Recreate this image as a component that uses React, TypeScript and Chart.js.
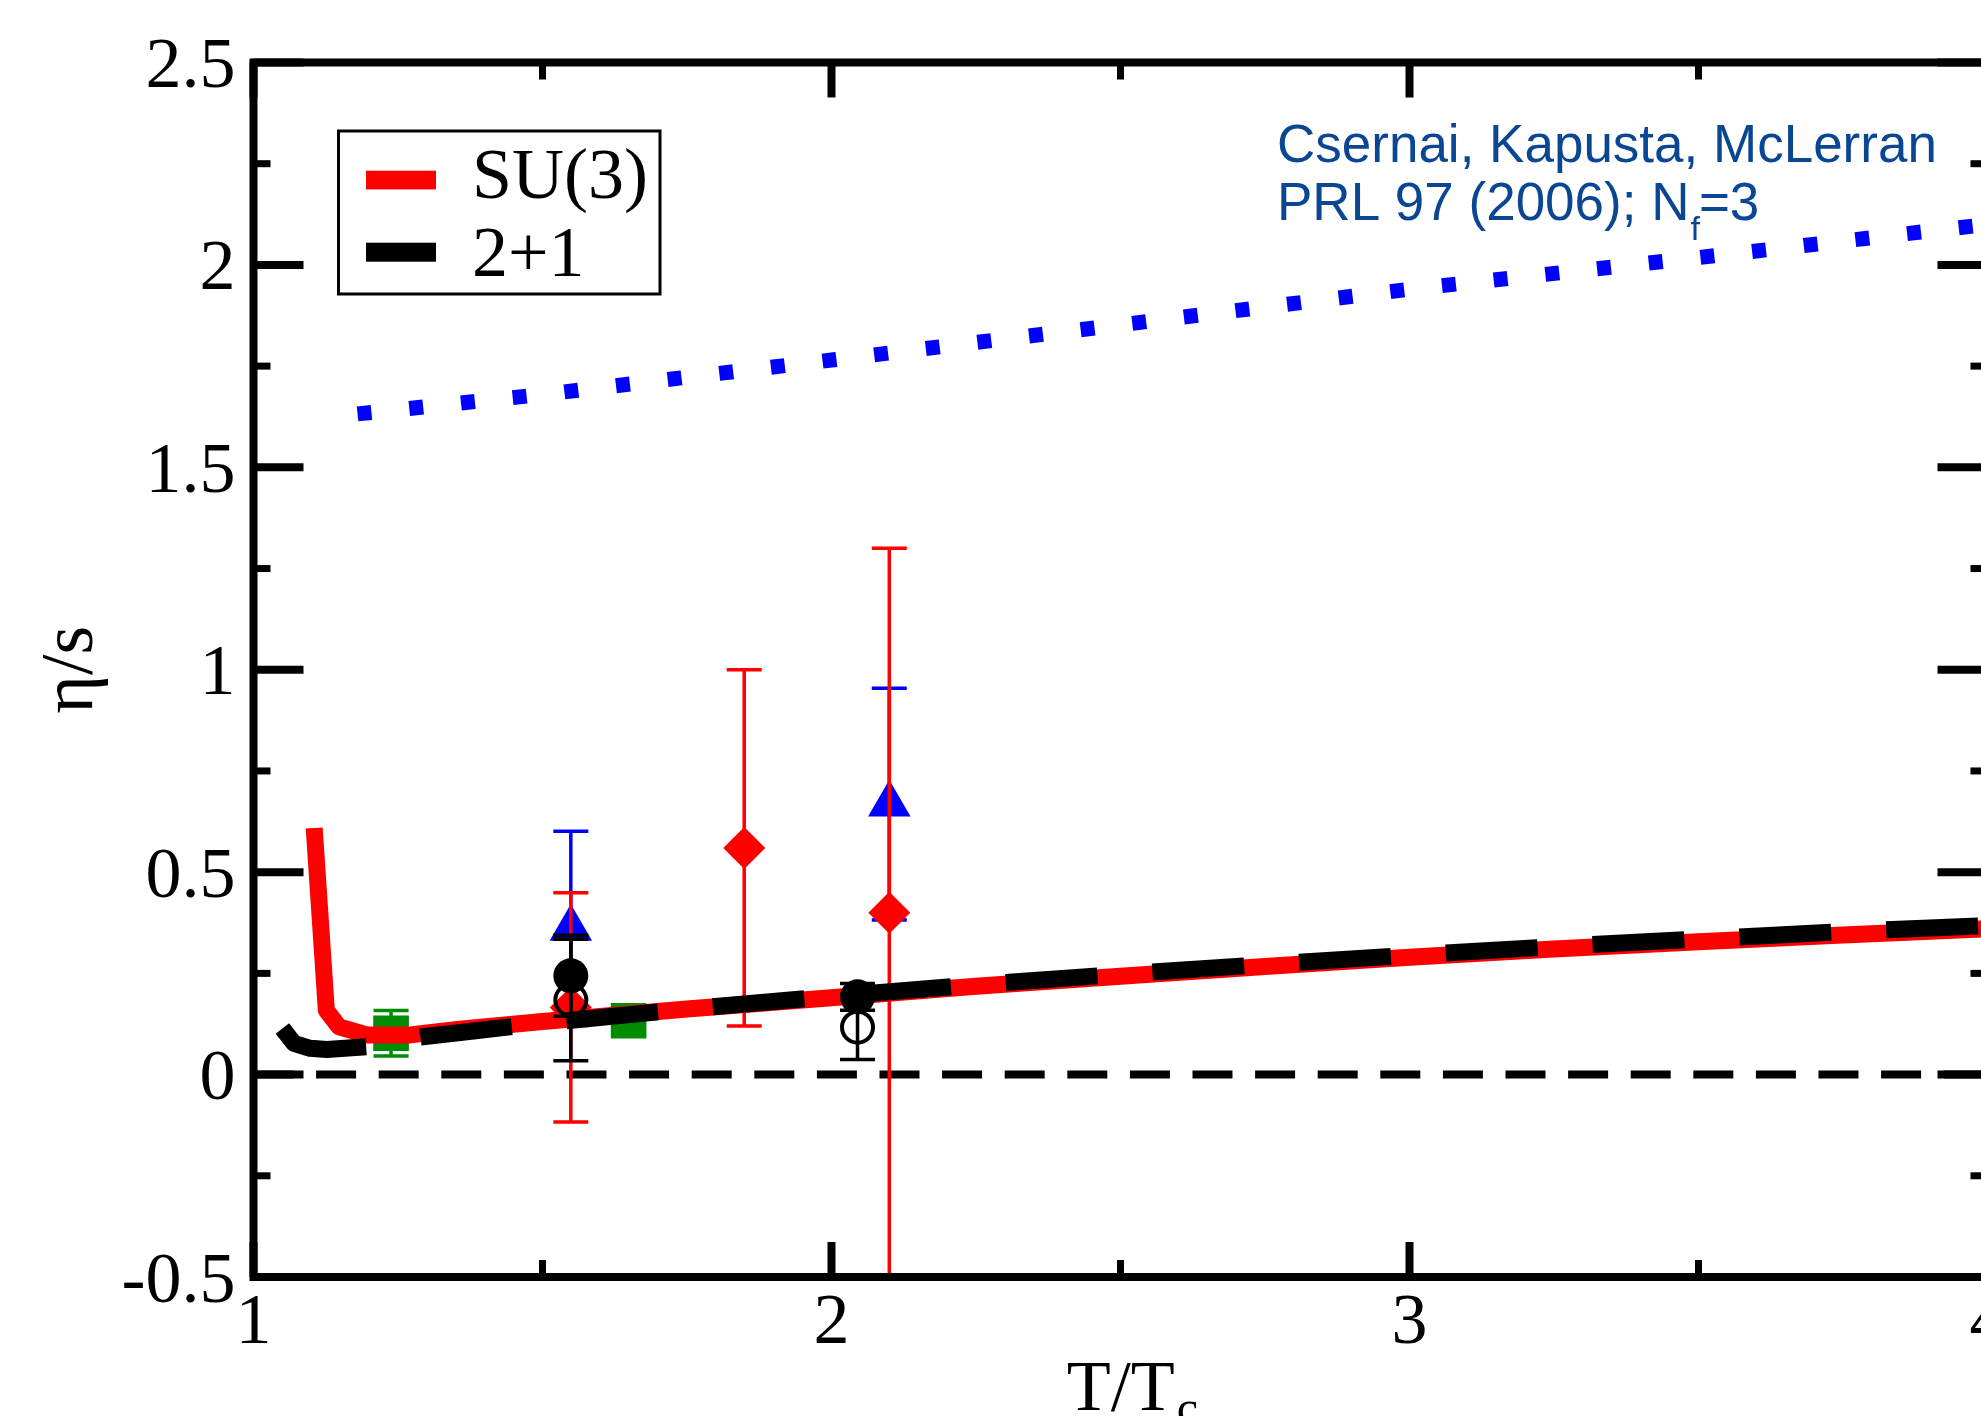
import React, { useEffect, useRef } from "react";
import { Chart, registerables } from "chart.js";

Chart.register(...registerables);

// ---------- data ----------
// SU(3) curve (red, solid)
const su3T = [1.105, 1.126, 1.148, 1.196, 1.271, 1.357, 1.5, 1.75, 2.0, 2.25, 2.5, 2.75, 3.0, 3.25, 3.5, 3.75, 4.0];
const su3Eta = [0.609, 0.159, 0.118, 0.098, 0.098, 0.112, 0.131, 0.162, 0.19, 0.218, 0.243, 0.267, 0.29, 0.31, 0.328, 0.345, 0.36];

// 2+1 curve (black, dashed)
const nf21T = [1.05, 1.07, 1.098, 1.127, 1.196, 1.289, 1.358, 1.5, 1.75, 2.0, 2.25, 2.5, 2.75, 3.0, 3.25, 3.5, 3.75, 4.0];
const nf21Eta = [0.114, 0.077, 0.065, 0.062, 0.069, 0.093, 0.104, 0.127, 0.162, 0.193, 0.222, 0.248, 0.272, 0.295, 0.316, 0.335, 0.353, 0.368];

// Csernai, Kapusta, McLerran (blue, dotted)
const ckmT = [1.18, 1.5, 2.0, 2.5, 3.0, 3.5, 4.0];
const ckmEta = [1.632, 1.68, 1.765, 1.852, 1.94, 2.018, 2.1];

// zero reference line
const zeroT = [1, 4];
const zeroEta = [0, 0];

// lattice points with errors
const triT = [1.549, 2.1];
const triEta = [0.361, 0.668];
const triErr = [0.24, 0.286];

const diaT = [1.549, 1.849, 2.1];
const diaEta = [0.166, 0.56, 0.4];
const diaErr = [0.283, 0.44, 0.9];

const sqT = [1.238, 1.649];
const sqEta = [0.102, 0.133];
const sqErr = [0.056, 0];

const fcT = [1.549, 2.045];
const fcEta = [0.244, 0.192];
const fcErr = [0.1, 0.033];

const ocT = [1.549, 2.045];
const ocEta = [0.184, 0.117];
const ocErr = [0.15, 0.08];

// axes
const xTickValues = [1, 2, 3, 4];
const xTickLabels = ["1", "2", "3", "4"];
const xMinorValues = [1.5, 2.5, 3.5];
const yTickValues = [-0.5, 0, 0.5, 1, 1.5, 2, 2.5];
const yTickLabels = ["-0.5", "0", "0.5", "1", "1.5", "2", "2.5"];
const yMinorValues = [-0.25, 0.25, 0.75, 1.25, 1.75, 2.25];

const legendLabels = ["SU(3)", "2+1"];
const noteLine1 = "Csernai, Kapusta, McLerran";
const noteLine2 = "PRL 97 (2006); N";
const noteSub = "f";
const noteTail = "=3";

const pts = (xs: number[], ys: number[]) => xs.map((x, i) => ({ x, y: ys[i] }));

const CW = 2100;
const CH = 1416;
const SERIF = '"Liberation Serif", "Times New Roman", serif';
const SANS = '"Liberation Sans", Arial, sans-serif';

const errorBars = {
  id: "errorBars",
  beforeDatasetDraw(chart: any, args: any) {
    const ds = chart.data.datasets[args.index];
    if (!ds.errors) return;
    const { ctx } = chart;
    const xs = chart.scales.x;
    const ys = chart.scales.y;
    ctx.save();
    ctx.strokeStyle = ds.errorColor;
    ctx.lineWidth = 3.5;
    ctx.lineCap = "butt";
    ds.data.forEach((p: any, i: number) => {
      const e = ds.errors[i];
      if (!e) return;
      const px = xs.getPixelForValue(p.x);
      const yt = ys.getPixelForValue(p.y + e);
      const yb = ys.getPixelForValue(p.y - e);
      ctx.beginPath();
      ctx.moveTo(px, yt);
      ctx.lineTo(px, yb);
      ctx.moveTo(px - 17.5, yt);
      ctx.lineTo(px + 17.5, yt);
      ctx.moveTo(px - 17.5, yb);
      ctx.lineTo(px + 17.5, yb);
      ctx.stroke();
    });
    ctx.restore();
  },
};

const frame = {
  id: "frame",
  afterDraw(chart: any) {
    const { ctx, chartArea } = chart;
    const { left, right, top, bottom } = chartArea;
    const xs = chart.scales.x;
    const ys = chart.scales.y;
    ctx.save();
    ctx.strokeStyle = "#000";
    ctx.fillStyle = "#000";
    ctx.lineCap = "butt";

    const hLine = (y: number, x0: number, x1: number, w: number) => {
      ctx.lineWidth = w;
      ctx.beginPath();
      ctx.moveTo(x0, y);
      ctx.lineTo(x1, y);
      ctx.stroke();
    };
    const vLine = (x: number, y0: number, y1: number, w: number) => {
      ctx.lineWidth = w;
      ctx.beginPath();
      ctx.moveTo(x, y0);
      ctx.lineTo(x, y1);
      ctx.stroke();
    };
    yTickValues.forEach((v) => {
      const py = ys.getPixelForValue(v);
      hLine(py, left, left + 50, 8);
      hLine(py, right - 50, right, 8);
    });
    yMinorValues.forEach((v) => {
      const py = ys.getPixelForValue(v);
      hLine(py, left, left + 17, 7);
      hLine(py, right - 17, right, 7);
    });
    xTickValues.forEach((v) => {
      const px = xs.getPixelForValue(v);
      vLine(px, bottom, bottom - 35, 8);
      vLine(px, top, top + 35, 8);
    });
    xMinorValues.forEach((v) => {
      const px = xs.getPixelForValue(v);
      vLine(px, bottom, bottom - 17, 7);
      vLine(px, top, top + 17, 7);
    });

    // frame
    ctx.lineWidth = 8;
    ctx.lineJoin = "miter";
    ctx.strokeRect(left, top, right - left, bottom - top);

    // tick labels
    ctx.font = `72px ${SERIF}`;
    ctx.textBaseline = "alphabetic";
    ctx.textAlign = "right";
    yTickValues.forEach((v, i) => {
      const py = ys.getPixelForValue(v);
      ctx.fillText(yTickLabels[i], left - 18, py + 24.5);
    });
    ctx.textAlign = "center";
    xTickValues.forEach((v, i) => {
      const px = xs.getPixelForValue(v);
      ctx.fillText(xTickLabels[i], px, bottom + 66);
    });

    // x title T/Tc
    ctx.textAlign = "left";
    ctx.font = `72px ${SERIF}`;
    const tt = "T/T";
    const ttW = ctx.measureText(tt).width;
    ctx.font = `48px ${SERIF}`;
    const cW = ctx.measureText("c").width;
    const cx = (left + right) / 2 + 11;
    const x0 = cx - (ttW + cW) / 2;
    ctx.font = `72px ${SERIF}`;
    ctx.fillText(tt, x0, bottom + 133);
    ctx.font = `48px ${SERIF}`;
    ctx.fillText("c", x0 + ttW + 2, bottom + 147);

    // y title
    ctx.save();
    ctx.translate(92, (top + bottom) / 2);
    ctx.rotate(-Math.PI / 2);
    ctx.textAlign = "center";
    ctx.font = `74px ${SERIF}`;
    ctx.fillText("η/s", 0, 0);
    ctx.restore();

    // legend
    ctx.fillStyle = "#fff";
    ctx.fillRect(338.5, 131, 321.5, 163);
    ctx.lineWidth = 3;
    ctx.strokeStyle = "#000";
    ctx.strokeRect(338.5, 131, 321.5, 163);
    ctx.fillStyle = "#ff0000";
    ctx.fillRect(366, 170.7, 70, 18.7);
    ctx.fillStyle = "#000";
    ctx.fillRect(366, 242.7, 70, 19);
    ctx.font = `72px ${SERIF}`;
    ctx.textAlign = "left";
    ctx.fillText(legendLabels[0], 472, 198);
    ctx.fillText(legendLabels[1], 472, 276);

    // annotation
    ctx.fillStyle = "#0a4692";
    ctx.font = `53px ${SANS}`;
    ctx.fillText(noteLine1, 1277, 162);
    ctx.fillText(noteLine2, 1277, 220);
    const w2 = ctx.measureText(noteLine2).width;
    ctx.font = `34px ${SANS}`;
    ctx.fillText(noteSub, 1277 + w2 + 1, 240);
    const wf = ctx.measureText(noteSub).width;
    ctx.font = `53px ${SANS}`;
    ctx.fillText(noteTail, 1277 + w2 + wf, 220);

    ctx.restore();
  },
};

export default function App() {
  const ref = useRef<HTMLCanvasElement | null>(null);

  useEffect(() => {
    if (!ref.current) return;
    const chart = new Chart(ref.current, {
      type: "scatter",
      data: {
        datasets: [
          {
            label: "filled circles",
            data: pts(fcT, fcEta),
            errors: fcErr,
            errorColor: "#000000",
            pointStyle: "circle",
            pointRadius: 17.5,
            pointBackgroundColor: "#000000",
            pointBorderWidth: 0,
          } as any,
          {
            label: "open circles",
            data: pts(ocT, ocEta),
            errors: ocErr,
            errorColor: "#000000",
            pointStyle: "circle",
            pointRadius: 15.5,
            pointBackgroundColor: "rgba(0,0,0,0)",
            pointBorderColor: "#000000",
            pointBorderWidth: 4,
          } as any,
          {
            label: "2+1",
            data: pts(nf21T, nf21Eta),
            showLine: true,
            borderColor: "#000000",
            backgroundColor: "#000000",
            borderWidth: 17,
            borderDash: [92, 55],
            borderCapStyle: "butt",
            borderJoinStyle: "round",
            pointRadius: 0,
            tension: 0,
          },
          {
            label: "SU(3)",
            data: pts(su3T, su3Eta),
            showLine: true,
            borderColor: "#ff0000",
            backgroundColor: "#ff0000",
            borderWidth: 17,
            borderCapStyle: "butt",
            borderJoinStyle: "round",
            pointRadius: 0,
            tension: 0,
          },
          {
            label: "CKM",
            data: pts(ckmT, ckmEta),
            showLine: true,
            borderColor: "#0000ff",
            backgroundColor: "#0000ff",
            borderWidth: 15,
            borderDash: [14, 38],
            borderCapStyle: "butt",
            pointRadius: 0,
            tension: 0,
          },
          {
            label: "squares",
            data: pts(sqT, sqEta),
            errors: sqErr,
            errorColor: "#008c00",
            pointStyle: "rect",
            pointRadius: 25.2,
            pointBackgroundColor: "#008c00",
            pointBorderWidth: 0,
          } as any,
          {
            label: "diamonds",
            data: pts(diaT, diaEta),
            errors: diaErr,
            errorColor: "#ff0000",
            pointStyle: "rectRot",
            pointRadius: 21,
            pointBackgroundColor: "#ff0000",
            pointBorderWidth: 0,
          } as any,
          {
            label: "triangles",
            data: pts(triT, triEta),
            errors: triErr,
            errorColor: "#0000ff",
            pointStyle: "triangle",
            pointRadius: 24.5,
            pointBackgroundColor: "#0000ff",
            pointBorderWidth: 0,
          } as any,
          {
            label: "zero",
            data: pts(zeroT, zeroEta),
            showLine: true,
            borderColor: "#000000",
            borderWidth: 8,
            borderDash: [40, 22.6],
            borderCapStyle: "butt",
            pointRadius: 0,
            tension: 0,
          },
        ],
      },
      options: {
        animation: false,
        responsive: false,
        devicePixelRatio: 1,
        events: [],
        layout: {
          padding: { left: 253.5, top: 62.5, right: CW - 1987.5, bottom: CH - 1277 },
        },
        plugins: {
          legend: { display: false },
          tooltip: { enabled: false },
        },
        scales: {
          x: { type: "linear", min: 1, max: 4, display: false },
          y: { type: "linear", min: -0.5, max: 2.5, display: false },
        },
      },
      plugins: [errorBars, frame],
    } as any);
    return () => chart.destroy();
  }, []);

  return (
    <div
      style={{
        position: "fixed",
        left: 0,
        top: 0,
        width: 1981,
        height: 1416,
        overflow: "hidden",
        background: "#ffffff",
      }}
    >
      <canvas ref={ref} width={CW} height={CH} style={{ display: "block", width: CW, height: CH }} />
    </div>
  );
}
